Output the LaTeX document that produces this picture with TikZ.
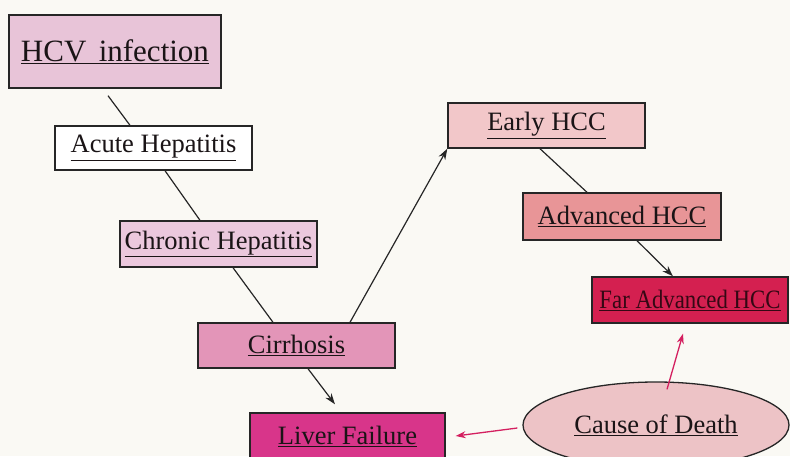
\documentclass[tikz,border=0pt]{standalone}
\usepackage{fontspec}
\setmainfont{Liberation Serif}
\usetikzlibrary{arrows.meta,shapes.geometric,calc}
\definecolor{bg}{HTML}{FAF9F4}
\definecolor{hcvc}{HTML}{E8C4D8}
\definecolor{chronc}{HTML}{EBC8DD}
\definecolor{cirrc}{HTML}{E395B8}
\definecolor{liverc}{HTML}{D8358A}
\definecolor{earlyc}{HTML}{F2C7C9}
\definecolor{advc}{HTML}{E89597}
\definecolor{farc}{HTML}{D42050}
\definecolor{causec}{HTML}{EDC3C6}
\definecolor{redar}{HTML}{D42060}
\definecolor{txt}{HTML}{1A1416}
\tikzset{
  box/.style={draw=black!85, line width=1.4pt, rectangle, inner sep=0pt,
    font=\fontsize{26.5}{30}\selectfont, text=txt, minimum height=45pt, minimum width=197pt},
  conn/.style={draw=black!85, line width=1.2pt},
  arr/.style={conn, -{Stealth[length=11pt,width=7.5pt]}},
  redarr/.style={draw=redar, line width=1.3pt, -{Stealth[length=10pt,width=7pt]}}
}
\begin{document}
\begin{tikzpicture}[x=1pt,y=-1pt]
\fill[bg] (0,0) rectangle (790,456);
\useasboundingbox (0,0) rectangle (790,456);
\begin{scope}
\clip (0,0) rectangle (790,456);
\node[box, fill=hcvc, minimum width=212pt, minimum height=73pt, font=\fontsize{31}{34}\selectfont] (hcv) at (115,51.5) {\underline{HCV\hspace{0.15em} infection}};
\node[box, fill=white, minimum height=44pt] (acute) at (153.5,148) {\underline{Acute Hepatitis}};
\node[box, fill=chronc, minimum height=46pt] (chron) at (218.5,244) {\underline{Chronic Hepatitis}};
\node[box, fill=cirrc] (cirr) at (296.5,345.5) {\underline{Cirrhosis}};
\node[box, fill=liverc, minimum width=195pt, minimum height=46pt] (liver) at (347.5,436) {\underline{Liver Failure}};
\node[box, fill=earlyc] (early) at (546.5,125.5) {\underline{Early HCC}};
\node[box, fill=advc, minimum width=198pt, minimum height=47pt] (adv) at (622,216.5) {\underline{Advanced HCC}};
\node[box, fill=farc, minimum width=196pt, minimum height=46pt, text=black!75!farc] (far) at (690,300) {\scalebox{0.86}[1]{\underline{Far Advanced HCC}}};
\node[ellipse, draw=black!85, line width=1.3pt, fill=causec, minimum width=266pt, minimum height=86pt, inner sep=0pt,
  font=\fontsize{26.5}{30}\selectfont, text=txt] (cause) at (656,425) {\underline{Cause of Death}};

\draw[conn] ([xshift=-7pt,yshift=-7pt]hcv.south) -- ([xshift=-23.5pt]acute.north);
\draw[conn] ([xshift=11.5pt]acute.south) -- ([xshift=-18.5pt]chron.north);
\draw[conn] ([xshift=14.5pt]chron.south) -- ([xshift=-23.5pt]cirr.north);
\draw[arr] ([xshift=53.5pt]cirr.north) -- (early.south west);
\draw[arr] ([xshift=11.5pt]cirr.south) -- ([xshift=-12.5pt,yshift=8pt]liver.north);
\draw[conn] ([xshift=-6.5pt]early.south) -- ([xshift=-35pt]adv.north);
\draw[arr] ([xshift=15pt]adv.south) -- ([xshift=-17pt]far.north);
\draw[redarr] ([xshift=-5pt,yshift=-3pt]cause.west) -- ([xshift=10pt]liver.east);
\draw[redarr] ([xshift=11pt,yshift=-8pt]cause.north) -- ([xshift=-7pt,yshift=-10pt]far.south);
\end{scope}
\end{tikzpicture}
\end{document}
